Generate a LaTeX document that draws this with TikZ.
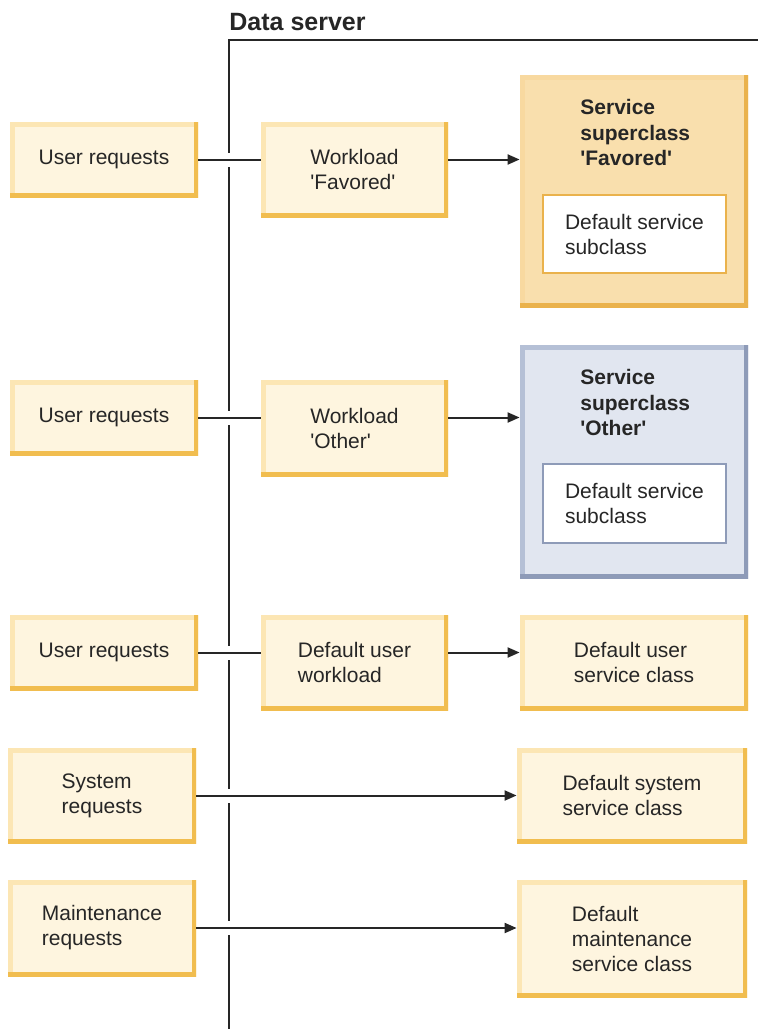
\documentclass[tikz,border=0pt]{standalone}
\usepackage{fontspec}
\setmainfont{Liberation Sans}
\usetikzlibrary{arrows.meta}
\definecolor{reqfill}{HTML}{FEF5DF}
\definecolor{reqlight}{HTML}{FCE6B4}
\definecolor{reqdark}{HTML}{F1BD4F}
\definecolor{favfill}{HTML}{F9DFAD}
\definecolor{favlight}{HTML}{F8D9A0}
\definecolor{favdark}{HTML}{EAB24C}
\definecolor{othfill}{HTML}{E1E6F0}
\definecolor{othlight}{HTML}{B5C0D6}
\definecolor{othdark}{HTML}{8E9BB8}
\definecolor{linegray}{HTML}{262626}
\tikzset{bevel/.style n args={3}{fill=#1,
    path picture={
      \draw[#2, line width=4.5pt] (path picture bounding box.south west) rectangle (path picture bounding box.north east);
      \draw[#3, line width=4.5pt] (path picture bounding box.south west) -- (path picture bounding box.south east) -- (path picture bounding box.north east);
    }}}

\begin{document}
\begin{tikzpicture}[x=0.5pt, y=-0.5pt]
    \useasboundingbox (0,0) rectangle (758,1029);
    \tikzstyle{box} = [bevel={reqfill}{reqlight}{reqdark}, align=left, text=linegray, font=\fontsize{10.5}{12.5}\selectfont]
    \tikzstyle{favbox} = [bevel={favfill}{favlight}{favdark}]
    \tikzstyle{othbox} = [bevel={othfill}{othlight}{othdark}]
    \tikzstyle{favsub} = [fill=white, draw=favdark, line width=1pt, align=left, text=linegray, font=\fontsize{10.5}{12.5}\selectfont]
    \tikzstyle{othsub} = [fill=white, draw=othdark, line width=1pt, align=left, text=linegray, font=\fontsize{10.5}{12.5}\selectfont]
    \tikzstyle{title} = [anchor=north west, inner sep=0pt, align=left, text=linegray, font=\bfseries\fontsize{10.5}{12.75}\selectfont]
    \tikzstyle{wire} = [line width=1pt, linegray]
    \tikzstyle{arrow} = [wire, -{Triangle[length=6pt, width=5pt]}]
    \tikzstyle{cross} = [wire, preaction={draw=white, -, line width=7pt, shorten <=6pt, shorten >=6pt}]

    % data server bracket
    \node[anchor=base west, inner sep=0pt, text=linegray, font=\bfseries\fontsize{12.5}{15}\selectfont] (srv) at (229,30) {Data server};
    \coordinate (srvbot) at (229,1029);
    \coordinate (srvend) at (758,40);
    \draw[wire] (srvbot) |- (srvend);

    % workload 'Favored'
    \node[box, minimum width=94pt, minimum height=37.5pt] (ureq1) at (104,159.5) {User requests};
    \node[box, minimum width=93.5pt, minimum height=47.5pt] (wl1) at (354.5,169.5) {Workload\\\textquotesingle Favored\textquotesingle};
    \node[favbox, minimum width=114pt, minimum height=116pt] (sc1) at (634,191) {};
    \node[title] (sc1txt) at (580,99) {Service\\superclass\\\textquotesingle Favored\textquotesingle};
    \node[favsub, minimum width=91.5pt, minimum height=39pt] (sub1) at (634.5,234) {Default service\\subclass};

    % workload 'Other'
    \node[box, minimum width=94pt, minimum height=37.5pt] (ureq2) at (104,417.5) {User requests};
    \node[box, minimum width=93.5pt, minimum height=48pt] (wl2) at (354.5,428) {Workload\\\textquotesingle Other\textquotesingle};
    \node[othbox, minimum width=114pt, minimum height=116.5pt] (sc2) at (634,461.5) {};
    \node[title] (sc2txt) at (580,369) {Service\\superclass\\\textquotesingle Other\textquotesingle};
    \node[othsub, minimum width=91.5pt, minimum height=39.5pt] (sub2) at (634.5,503.5) {Default service\\subclass};

    % default user workload
    \node[box, minimum width=94pt, minimum height=37.5pt] (ureq3) at (104,652.5) {User requests};
    \node[box, minimum width=93.5pt, minimum height=47.5pt] (wl3) at (354.5,662.5) {Default user\\workload};
    \node[box, minimum width=114pt, minimum height=47.5pt] (usc) at (634,662.5) {Default user\\service class};

    % system and maintenance
    \node[box, minimum width=94pt, minimum height=47.5pt] (sreq) at (102,795.5) {System\\requests};
    \node[box, minimum width=115pt, minimum height=47.5pt] (ssc) at (632,795.5) {Default system\\service class};
    \node[box, minimum width=94pt, minimum height=48pt] (mreq) at (102,928) {Maintenance\\requests};
    \node[box, minimum width=115pt, minimum height=58.5pt] (msc) at (632,938.5) {Default\\maintenance\\service class};

    \draw[cross] (ureq1) -- (wl1.west |- ureq1);
    \draw[arrow] (wl1.east |- ureq1) -- (sc1.west |- ureq1);
    \draw[cross] (ureq2) -- (wl2.west |- ureq2);
    \draw[arrow] (wl2.east |- ureq2) -- (sc2.west |- ureq2);
    \draw[cross] (ureq3) -- (wl3.west |- ureq3);
    \draw[arrow] (wl3.east |- ureq3) -- (usc.west |- ureq3);
    \draw[cross, arrow] (sreq) -- (ssc.west |- sreq);
    \draw[cross, arrow] (mreq) -- (msc.west |- mreq);
\end{tikzpicture}
\end{document}
